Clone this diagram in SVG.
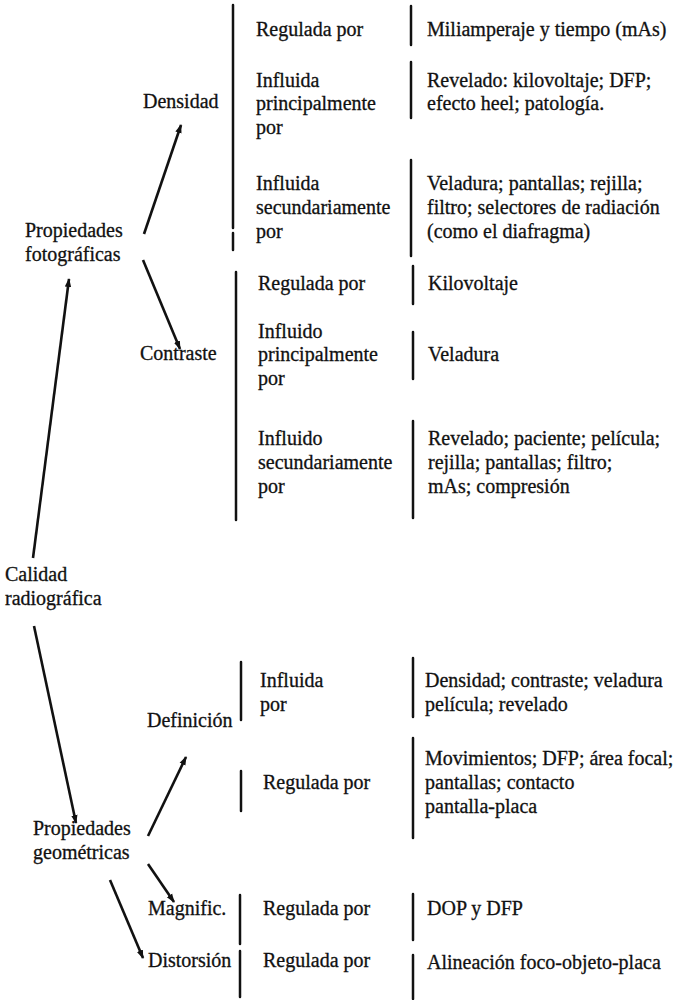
<svg xmlns="http://www.w3.org/2000/svg" width="676" height="1000" viewBox="0 0 676 1000">
<style>
text{font-family:"Liberation Serif","Times New Roman",serif;font-size:20px;fill:#111;stroke:#111;stroke-width:0.3}
.bar{stroke:#111;stroke-width:2.5;stroke-linecap:round}
.arr{stroke:#111;stroke-width:2.6;fill:none;marker-end:url(#ah)}
</style>
<defs>
<marker id="ah" markerUnits="userSpaceOnUse" markerWidth="10" markerHeight="8" refX="8" refY="4" orient="auto">
<path d="M0,0.8 L9,4 L0,7.2 z" fill="#111"/>
</marker>
</defs>
<rect width="676" height="1000" fill="#fff"/>
<g id="connectors">
<line class="arr" x1="144" y1="234" x2="181" y2="125"/>
<line class="arr" x1="143" y1="260" x2="180" y2="349"/>
<line class="arr" x1="33" y1="558" x2="69" y2="279"/>
<line class="arr" x1="34" y1="626" x2="76" y2="823"/>
<line class="arr" x1="148" y1="836" x2="186" y2="757"/>
<line class="arr" x1="148" y1="864" x2="174" y2="902"/>
<line class="arr" x1="110" y1="880" x2="143" y2="958"/>
</g>
<g id="bars">
<line class="bar" x1="233" y1="5" x2="233" y2="228"/>
<line class="bar" x1="233" y1="233" x2="233" y2="250"/>
<line class="bar" x1="236" y1="272" x2="236" y2="520"/>
<line class="bar" x1="241" y1="662" x2="241" y2="720"/>
<line class="bar" x1="241" y1="771" x2="241" y2="811"/>
<line class="bar" x1="240" y1="895" x2="240" y2="944"/>
<line class="bar" x1="240" y1="951" x2="240" y2="997"/>
<line class="bar" x1="411" y1="6" x2="411" y2="45"/>
<line class="bar" x1="411" y1="62" x2="411" y2="118"/>
<line class="bar" x1="411" y1="160" x2="411" y2="256"/>
<line class="bar" x1="413" y1="266" x2="413" y2="304"/>
<line class="bar" x1="413" y1="332" x2="413" y2="379"/>
<line class="bar" x1="413" y1="421" x2="413" y2="518"/>
<line class="bar" x1="413" y1="658" x2="413" y2="717"/>
<line class="bar" x1="413" y1="738" x2="413" y2="838"/>
<line class="bar" x1="413" y1="894" x2="413" y2="940"/>
<line class="bar" x1="413" y1="955" x2="413" y2="999"/>
</g>
<g id="calidad"><text x="5" y="581">Calidad</text><text x="5" y="605">radiográfica</text></g>
<g id="prop-foto"><text x="25" y="237">Propiedades</text><text x="25" y="261">fotográficas</text></g>
<g id="densidad"><text x="143" y="108">Densidad</text></g>
<g id="contraste"><text x="140" y="360">Contraste</text></g>
<g id="prop-geom"><text x="33" y="835">Propiedades</text><text x="33" y="859">geométricas</text></g>
<g id="definicion"><text x="147" y="727">Definición</text></g>
<g id="magnific"><text x="148" y="915">Magnific.</text></g>
<g id="distorsion"><text x="148" y="967">Distorsión</text></g>
<g id="den-reg"><text x="256" y="36">Regulada por</text></g>
<g id="den-reg-v"><text x="427" y="36">Miliamperaje y tiempo (mAs)</text></g>
<g id="den-pri"><text x="256" y="87">Influida</text><text x="256" y="110">principalmente</text><text x="256" y="134">por</text></g>
<g id="den-pri-v"><text x="427" y="87">Revelado: kilovoltaje; DFP;</text><text x="427" y="110">efecto heel; patología.</text></g>
<g id="den-sec"><text x="256" y="190">Influida</text><text x="256" y="214">secundariamente</text><text x="256" y="238">por</text></g>
<g id="den-sec-v"><text x="427" y="190">Veladura; pantallas; rejilla;</text><text x="427" y="214">filtro; selectores de radiación</text><text x="427" y="238">(como el diafragma)</text></g>
<g id="con-reg"><text x="258" y="290">Regulada por</text></g>
<g id="con-reg-v"><text x="428" y="290">Kilovoltaje</text></g>
<g id="con-pri"><text x="258" y="338">Influido</text><text x="258" y="361">principalmente</text><text x="258" y="385">por</text></g>
<g id="con-pri-v"><text x="428" y="361">Veladura</text></g>
<g id="con-sec"><text x="258" y="445">Influido</text><text x="258" y="469">secundariamente</text><text x="258" y="493">por</text></g>
<g id="con-sec-v"><text x="428" y="445">Revelado; paciente; película;</text><text x="428" y="469">rejilla; pantallas; filtro;</text><text x="428" y="493">mAs; compresión</text></g>
<g id="def-inf"><text x="260" y="687">Influida</text><text x="260" y="711">por</text></g>
<g id="def-inf-v"><text x="425" y="687">Densidad; contraste; veladura</text><text x="425" y="711">película; revelado</text></g>
<g id="def-reg"><text x="263" y="789">Regulada por</text></g>
<g id="def-reg-v"><text x="425" y="765">Movimientos; DFP; área focal;</text><text x="425" y="789">pantallas; contacto</text><text x="425" y="813">pantalla-placa</text></g>
<g id="mag-reg"><text x="263" y="915">Regulada por</text></g>
<g id="mag-reg-v"><text x="427" y="915">DOP y DFP</text></g>
<g id="dis-reg"><text x="263" y="967">Regulada por</text></g>
<g id="dis-reg-v"><text x="427" y="969">Alineación foco-objeto-placa</text></g>
</svg>
